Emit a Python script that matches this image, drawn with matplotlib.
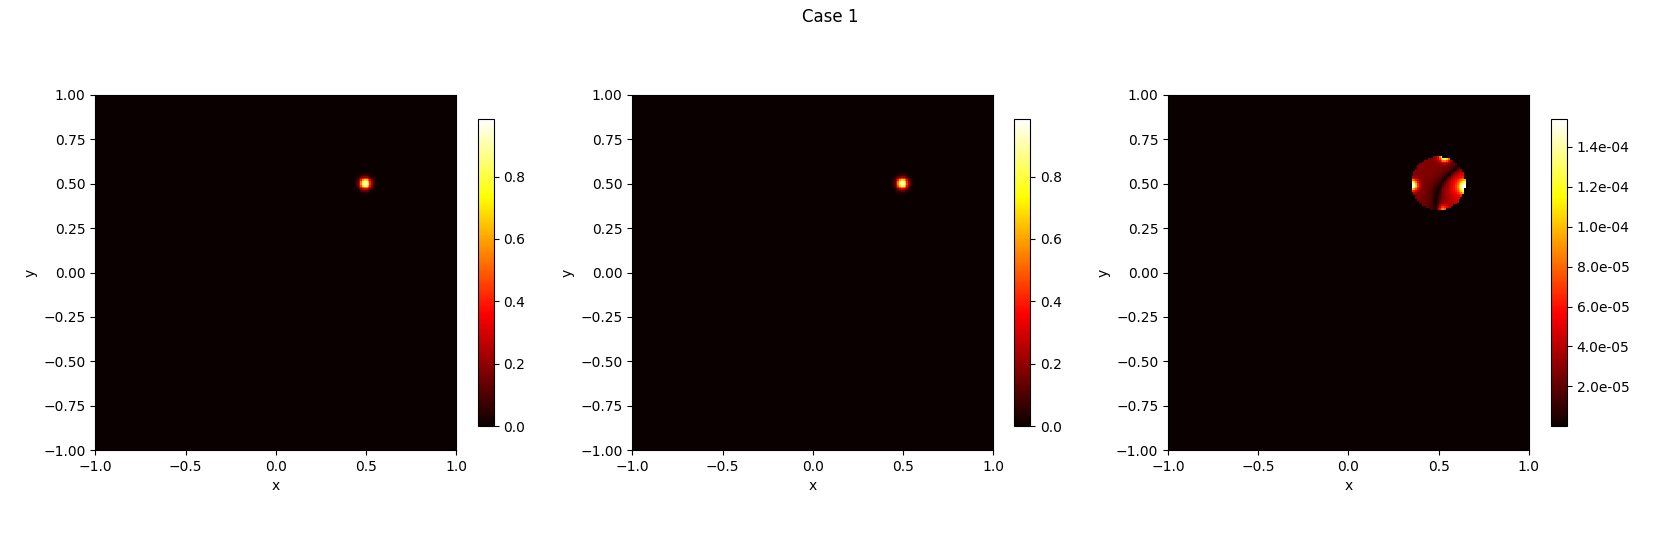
import numpy as np
import matplotlib
matplotlib.use("Agg")
import matplotlib.pyplot as plt
from matplotlib.ticker import FormatStrFormatter

# ---- data ----
title = "Case 1"
n_grid = 200
x_range = [-1.0, 1.0]
y_range = [-1.0, 1.0]
spot_center = [0.5, 0.5]
spot_sigma = 0.021
err_radius = 0.15
err_vmin = 2e-7
err_vmax = 1.54e-4
# dark (zero) line of the error map
line_y = [0.33, 0.40, 0.47, 0.52, 0.56, 0.61, 0.66]
line_x = [0.485, 0.487, 0.50, 0.53, 0.57, 0.625, 0.66]
left_level = 2.8e-5
right_level = 4.2e-5
# hot spots of the error map along the rim
bump_x = [0.355, 0.535, 0.655, 0.52, 0.63]
bump_y = [0.49, 0.655, 0.48, 0.345, 0.49]
bump_amp = [1.5e-4, 1.45e-4, 1.2e-4, 8.5e-5, 3.0e-5]
bump_w = [0.02, 0.02, 0.024, 0.02, 0.045]

# ---- fields ----
xs = np.linspace(x_range[0], x_range[1], n_grid)
ys = np.linspace(y_range[0], y_range[1], n_grid)
X, Y = np.meshgrid(xs, ys)
r2 = (X - spot_center[0]) ** 2 + (Y - spot_center[1]) ** 2
exact = np.exp(-r2 / (2 * spot_sigma ** 2))
approx = exact.copy()

s = X - np.interp(Y, line_y, line_x)
base = np.where(s < 0, left_level, right_level) * (1 - np.exp(-np.abs(s) / 0.035))
bumps = np.zeros_like(X)
for bx, by, ba, bw in zip(bump_x, bump_y, bump_amp, bump_w):
    bumps += ba * np.exp(-((X - bx) ** 2 + (Y - by) ** 2) / (2 * bw ** 2))
err = base + bumps * (1 - np.exp(-np.abs(s) / 0.02))
inside = r2 <= err_radius ** 2
err = np.where(inside, err, err_vmin)

# ---- figure ----
fig = plt.figure(figsize=(16.61, 5.45), dpi=100)
fig.suptitle(title, fontsize=12, y=0.985)

ax_lefts = [0.0574, 0.3807, 0.7032]
cb_lefts = [0.2876, 0.6107, 0.9338]
ax_w, ax_b, ax_h = 0.2172, 0.1743, 0.6514
cb_w, cb_b, cb_h = 0.00963, 0.2183, 0.5639

fields = [exact, approx, err]
for i, (fld, al, cl) in enumerate(zip(fields, ax_lefts, cb_lefts)):
    ax = fig.add_axes([al, ax_b, ax_w, ax_h])
    kw = dict(vmin=err_vmin, vmax=err_vmax) if i == 2 else {}
    im = ax.imshow(fld, cmap="hot", origin="lower", aspect="auto",
                   extent=[x_range[0], x_range[1], y_range[0], y_range[1]],
                   interpolation="nearest", **kw)
    ax.set_xlabel("x")
    ax.set_ylabel("y")
    ax.set_xticks([-1.0, -0.5, 0.0, 0.5, 1.0])
    ax.set_yticks([-1.0, -0.75, -0.5, -0.25, 0.0, 0.25, 0.5, 0.75, 1.0])
    cax = fig.add_axes([cl, cb_b, cb_w, cb_h])
    cb = fig.colorbar(im, cax=cax)
    if i == 2:
        cb.ax.yaxis.set_major_formatter(FormatStrFormatter("%.1e"))

fig.savefig("out.png", dpi=100)
